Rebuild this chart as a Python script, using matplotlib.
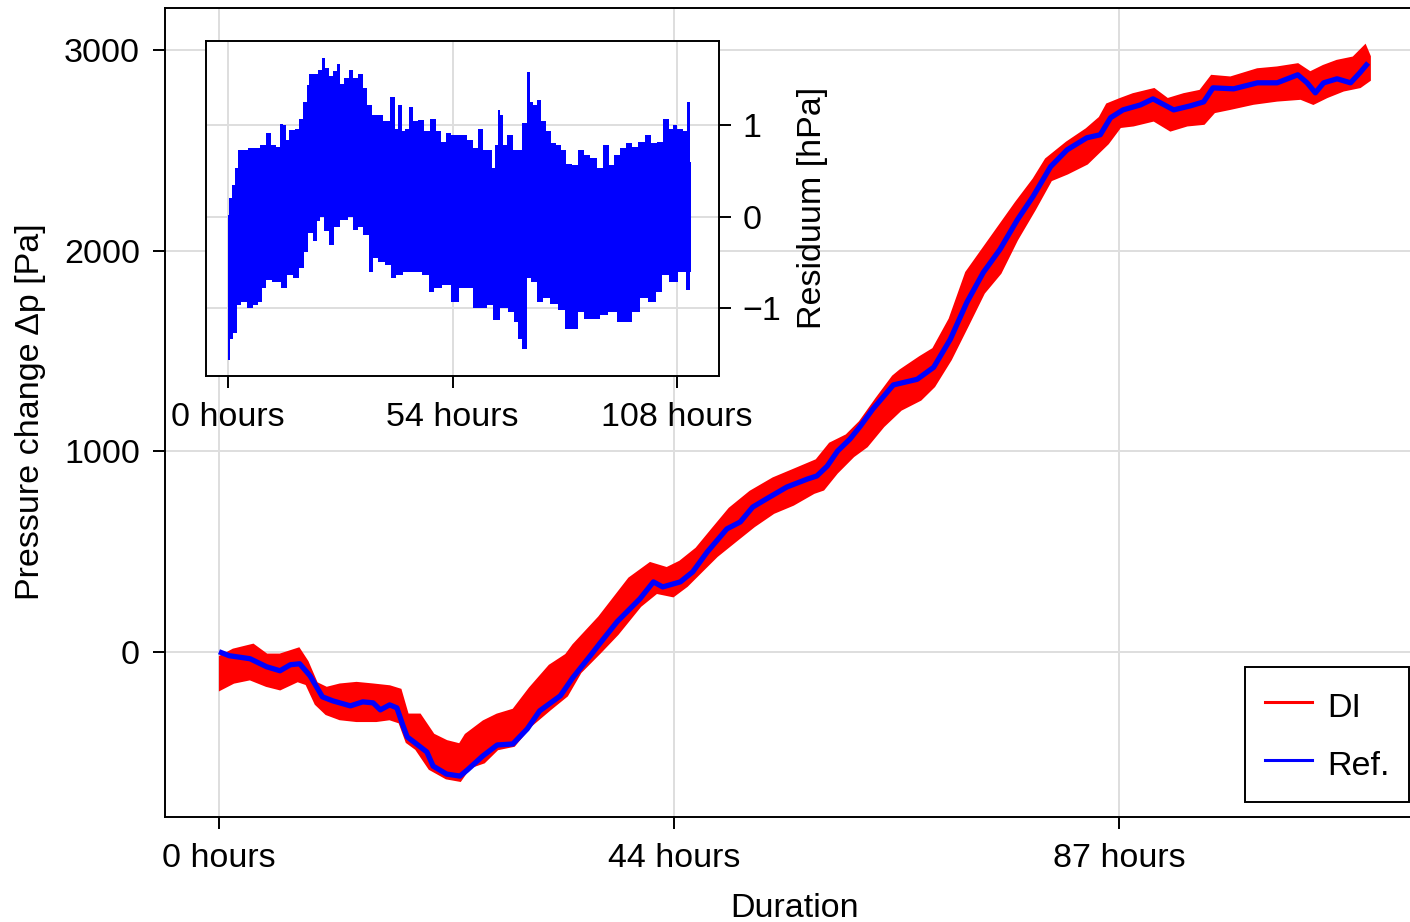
import matplotlib
matplotlib.use("Agg")
import matplotlib.pyplot as plt
from matplotlib.lines import Line2D
import numpy as np

plt.rcParams['font.family'] = ['Liberation Sans', 'DejaVu Sans']
plt.rcParams['font.size'] = 24.5

# Ref. curve, hours / Pa
ref_hours = [0.0, 1.0, 3.0, 4.6, 5.9, 6.9, 7.8, 8.8, 10.0, 11.0, 12.7, 13.9, 14.9,
             15.6, 16.5, 17.2, 17.8, 18.2, 19.1, 20.1, 20.7, 22.0, 23.3, 24.0, 25.5,
             26.9, 28.4, 29.8, 31.0, 33.0, 34.2, 35.9, 36.8, 38.5, 40.7, 42.0, 42.9,
             44.6, 45.8, 47.2, 49.1, 50.4, 51.6, 52.9, 54.9, 56.9, 57.8, 58.8, 59.8,
             61.0, 62.0, 63.2, 65.2, 67.5, 69.1, 70.7, 72.3, 73.9, 75.5, 77.2, 78.7,
             80.4, 82.0, 83.9, 85.2, 86.2, 87.4, 89.1, 90.3, 92.3, 93.9, 95.2, 96.1,
             98.1, 100.4, 102.3, 104.3, 105.2, 106.0, 106.8, 108.1, 109.4, 110.3, 111.1]
ref_pa = [0, -20, -35, -75, -95, -65, -60, -120, -225, -245, -270, -250, -255,
          -290, -265, -280, -370, -425, -460, -500, -570, -610, -620, -590, -520,
          -465, -460, -385, -295, -220, -130, -20, 40, 150, 264, 348, 323,
          348, 398, 497, 612, 647, 721, 761, 821, 861, 876, 925, 1000,
          1060, 1124, 1209, 1330, 1358, 1418, 1557, 1741, 1891, 2005, 2154, 2269,
          2418, 2502, 2562, 2577, 2662, 2701, 2726, 2756, 2701, 2721, 2741, 2811,
          2806, 2836, 2836, 2876, 2836, 2786, 2836, 2856, 2836, 2886, 2935]

# DI band, upper and lower envelope
di_up_hours = [0.16, 1.4, 3.3, 4.6, 5.9, 7.7, 8.5, 9.4, 10.4, 11.7, 13.3, 14.9, 16.5,
               17.5, 18.2, 19.4, 20.7, 22.0, 23.3, 23.9, 25.6, 26.9, 28.5, 30.1, 32.0,
               33.6, 34.3, 36.8, 39.7, 41.7, 43.3, 44.6, 46.2, 47.8, 49.4, 51.4, 53.6,
               55.5, 57.8, 59.1, 60.7, 62.0, 63.6, 65.2, 65.9, 67.8, 69.1, 70.7, 72.3,
               73.9, 75.5, 77.1, 78.8, 80.0, 82.0, 83.9, 85.2, 85.9, 87.1, 88.4, 90.4,
               91.7, 93.3, 94.9, 96.0, 97.8, 100.4, 102.3, 104.3, 105.5, 106.8, 108.1,
               109.7, 110.8, 111.2]
di_up = [-27, 7, 31, -18, -18, 12, -51, -159, -184, -167, -159, -167, -176,
         -192, -317, -317, -416, -449, -466, -416, -350, -317, -292, -184, -72,
         -18, 31, 170, 363, 438, 413, 446, 512, 612, 711, 795, 861,
         902, 952, 1035, 1076, 1143, 1259, 1370, 1400, 1466, 1507, 1657, 1889,
         2005, 2121, 2237, 2353, 2453, 2536, 2602, 2660, 2726, 2751, 2776, 2801,
         2751, 2776, 2793, 2867, 2859, 2900, 2909, 2925, 2884, 2917, 2942,
         2959, 3016, 2967]
di_lo_hours = [0.16, 1.4, 3.0, 4.6, 5.9, 7.6, 8.5, 9.4, 10.4, 11.7, 13.3, 15.2, 16.5,
               17.5, 18.2, 19.1, 20.4, 22.0, 23.3, 24.2, 25.6, 26.9, 28.5, 30.1, 32.0,
               33.6, 34.9, 36.8, 38.5, 40.7, 42.3, 43.9, 45.2, 46.5, 48.1, 50.1, 51.7,
               53.6, 55.5, 57.5, 58.4, 59.7, 61.3, 62.6, 64.2, 65.9, 67.8, 69.1, 70.7,
               72.3, 73.9, 75.5, 77.1, 78.8, 80.4, 82.0, 83.9, 85.9, 87.1, 88.4, 90.4,
               92.0, 93.6, 95.2, 96.2, 97.8, 100.0, 102.3, 104.6, 105.8, 107.1, 108.7,
               110.3, 111.2]
di_lo = [-184, -151, -134, -167, -184, -143, -159, -259, -308, -333, -342, -342, -333,
         -350, -449, -483, -582, -628, -640, -574, -549, -483, -466, -367, -284,
         -217, -101, -2, 90, 230, 297, 280, 330, 397, 479, 562, 628,
         695, 736, 795, 811, 894, 977, 1026, 1126, 1209, 1259, 1325, 1458,
         1623, 1790, 1889, 2055, 2204, 2353, 2387, 2436, 2536, 2619, 2627, 2652,
         2602, 2627, 2635, 2693, 2710, 2735, 2751, 2760, 2735, 2768, 2801,
         2818, 2851]

# residual envelope (hPa)
res_up_hours = [0.0, 0.4, 1.2, 2.0, 2.8, 4.4, 5.2, 6.8, 8.4, 9.6, 10.8, 12.0, 12.8,
                13.6, 14.0, 15.2, 16.9, 17.3, 18.5, 19.3, 19.7, 20.9, 22.1, 22.9, 23.7,
                24.9, 25.7, 26.5, 27.3, 28.5, 29.7, 30.5, 32.1, 32.9, 34.1, 34.9, 36.5,
                38.1, 39.6, 40.5, 41.3, 42.1, 42.9, 44.1, 44.9, 46.5, 47.8, 49.4, 50.6,
                51.8, 53.0, 54.2, 55.4, 56.6, 58.2, 59.4, 60.6, 61.8, 63.0, 63.8, 64.6,
                65.2, 65.8, 66.6, 67.4, 68.2, 69.0, 70.2, 71.4, 72.2, 73.0, 73.8, 74.6,
                75.8, 77.0, 78.3, 79.5, 80.7, 81.9, 83.5, 84.7, 86.3, 87.9, 89.5, 91.1,
                92.3, 93.5, 95.1, 96.3, 97.9, 99.5, 101.1, 102.3, 103.9, 105.5, 106.7,
                107.5, 108.7, 110.0, 110.8, 111.3]
res_up = [0.02, 0.20, 0.35, 0.53, 0.73, 0.73, 0.75, 0.75, 0.78, 0.91, 0.78, 0.76, 1.01,
          1.00, 0.84, 0.95, 0.96, 1.07, 1.25, 1.44, 1.56, 1.56, 1.60, 1.73, 1.62,
          1.53, 1.59, 1.66, 1.45, 1.51, 1.60, 1.51, 1.56, 1.40, 1.22, 1.11, 1.11,
          1.04, 1.31, 0.96, 1.22, 0.93, 0.96, 1.20, 1.04, 1.05, 0.93, 1.07, 0.93,
          0.82, 0.91, 0.89, 0.89, 0.89, 0.84, 0.75, 0.96, 0.73, 0.73, 0.53, 0.78,
          1.16, 1.11, 0.78, 0.89, 0.89, 0.73, 0.73, 1.02, 1.58, 1.25, 1.22, 1.27,
          1.04, 0.93, 0.80, 0.78, 0.73, 0.58, 0.56, 0.73, 0.67, 0.64, 0.53, 0.78,
          0.56, 0.67, 0.75, 0.80, 0.76, 0.82, 0.89, 0.80, 0.82, 1.07, 0.96,
          1.00, 0.96, 0.93, 1.25, 0.60]
res_lo_hours = [0.0, 0.8, 1.6, 2.4, 3.6, 5.2, 6.8, 7.6, 8.4, 9.6, 11.6, 13.6, 14.8,
                16.5, 17.7, 18.5, 19.7, 20.9, 21.7, 22.5, 23.7, 24.9, 26.1, 27.7, 29.7,
                30.5, 31.7, 33.3, 34.5, 35.3, 36.9, 38.5, 39.6, 41.3, 42.9, 45.3, 47.8,
                48.6, 50.2, 52.6, 54.6, 56.6, 58.2, 59.8, 61.4, 63.0, 64.6, 66.2, 68.2,
                69.4, 70.2, 71.4, 72.2, 73.4, 75.0, 76.6, 78.3, 80.3, 81.9, 83.5, 84.7,
                86.3, 88.7, 90.3, 92.7, 94.3, 95.9, 98.3, 99.9, 101.9, 103.9, 105.1,
                107.1, 109.6, 110.8, 111.3]
res_lo = [-1.56, -1.33, -1.27, -0.96, -0.93, -1.00, -0.96, -0.93, -0.78, -0.69, -0.71,
          -0.78, -0.64, -0.67, -0.56, -0.38, -0.18, -0.27, -0.05, 0.07, -0.16, -0.31,
          -0.11, -0.04, 0.07, -0.15, -0.11, -0.20, -0.60, -0.45, -0.49, -0.53, -0.67,
          -0.64, -0.60, -0.60, -0.64, -0.82, -0.78, -0.75, -0.93, -0.78, -0.78, -1.00,
          -1.00, -0.96, -1.13, -1.00, -1.04, -1.15, -1.33, -1.44, -0.67, -0.71, -0.93,
          -0.89, -0.95, -1.02, -1.22, -1.22, -1.04, -1.11, -1.11, -1.07, -1.04, -1.15,
          -1.15, -1.04, -0.89, -0.93, -0.82, -0.64, -0.71, -0.60, -0.80, -0.60]

main_ticks = [0, 44, 87]
main_tick_labels = ["0 hours", "44 hours", "87 hours"]
inset_ticks = [0, 54, 108]
inset_tick_labels = ["0 hours", "54 hours", "108 hours"]

grid_col = '#dedede'

fig = plt.figure(figsize=(14.1, 9.22), dpi=100)
ax = fig.add_axes([165 / 1410, 1 - 817 / 922, 1260 / 1410, 809 / 922])

band_x = np.concatenate([di_up_hours, di_lo_hours[::-1]])
band_y = np.concatenate([di_up, di_lo[::-1]])
ax.fill(band_x, band_y, color='red', lw=2.5, ec='red', zorder=2)
ax.plot(ref_hours, ref_pa, color='blue', lw=3.8, zorder=3,
        solid_capstyle='butt', solid_joinstyle='round')

ax.set_xlim(-5.22, 116.6)
ax.set_ylim(-824, 3209)
ax.set_xticks(main_ticks)
ax.set_xticklabels(main_tick_labels)
ax.set_yticks([0, 1000, 2000, 3000])
ax.grid(True, color=grid_col, lw=1.4)
ax.set_axisbelow(True)
ax.tick_params(direction='out', length=8.6, width=1.4)
ax.tick_params(axis='x', pad=10)
ax.tick_params(axis='y', pad=9.5)
for s in ax.spines.values():
    s.set_linewidth(1.4)

fig.text(31 / 1410, 1 - 412 / 922, "Pressure change Δp [Pa]", rotation=90,
         ha='center', va='center')
fig.text(795 / 1410, 1 - 917 / 922, "Duration", ha='center', va='baseline')

handles = [Line2D([], [], color='red', lw=2.2), Line2D([], [], color='blue', lw=2.2)]
leg = ax.legend(handles, ["DI", "Ref."], loc='lower right',
                bbox_to_anchor=(1409 / 1410, 1 - 802 / 922),
                bbox_transform=fig.transFigure, borderaxespad=0,
                fancybox=False, framealpha=1, edgecolor='black',
                handlelength=1.4, handleheight=1.3, handletextpad=0.42,
                labelspacing=0.62, borderpad=0.58)
leg.get_frame().set_linewidth(1.4)

# inset with the residual
ins = fig.add_axes([206 / 1410, 1 - 376 / 922, 513 / 1410, 335 / 922])
ins.fill_between(res_up_hours, res_up, 0, step='mid', color='blue', lw=0, zorder=2)
ins.fill_between(res_lo_hours, res_lo, 0, step='mid', color='blue', lw=0, zorder=2)
ins.set_xlim(-5.37, 118.1)
ins.set_ylim(-1.737, 1.916)
ins.set_xticks(inset_ticks)
ins.set_xticklabels(inset_tick_labels)
ins.set_yticks([-1, 0, 1])
ins.set_yticklabels(["−1", "0", "1"])
ins.yaxis.tick_right()
ins.grid(True, color=grid_col, lw=1.4)
ins.set_axisbelow(True)
ins.tick_params(direction='out', length=8.6, width=1.4)
ins.tick_params(axis='x', pad=10)
ins.tick_params(axis='y', pad=8.5)
for s in ins.spines.values():
    s.set_linewidth(1.4)
fig.text(812 / 1410, 1 - 208 / 922, "Residuum [hPa]", rotation=90,
         ha='center', va='center')

fig.savefig("out.png", dpi=100)
